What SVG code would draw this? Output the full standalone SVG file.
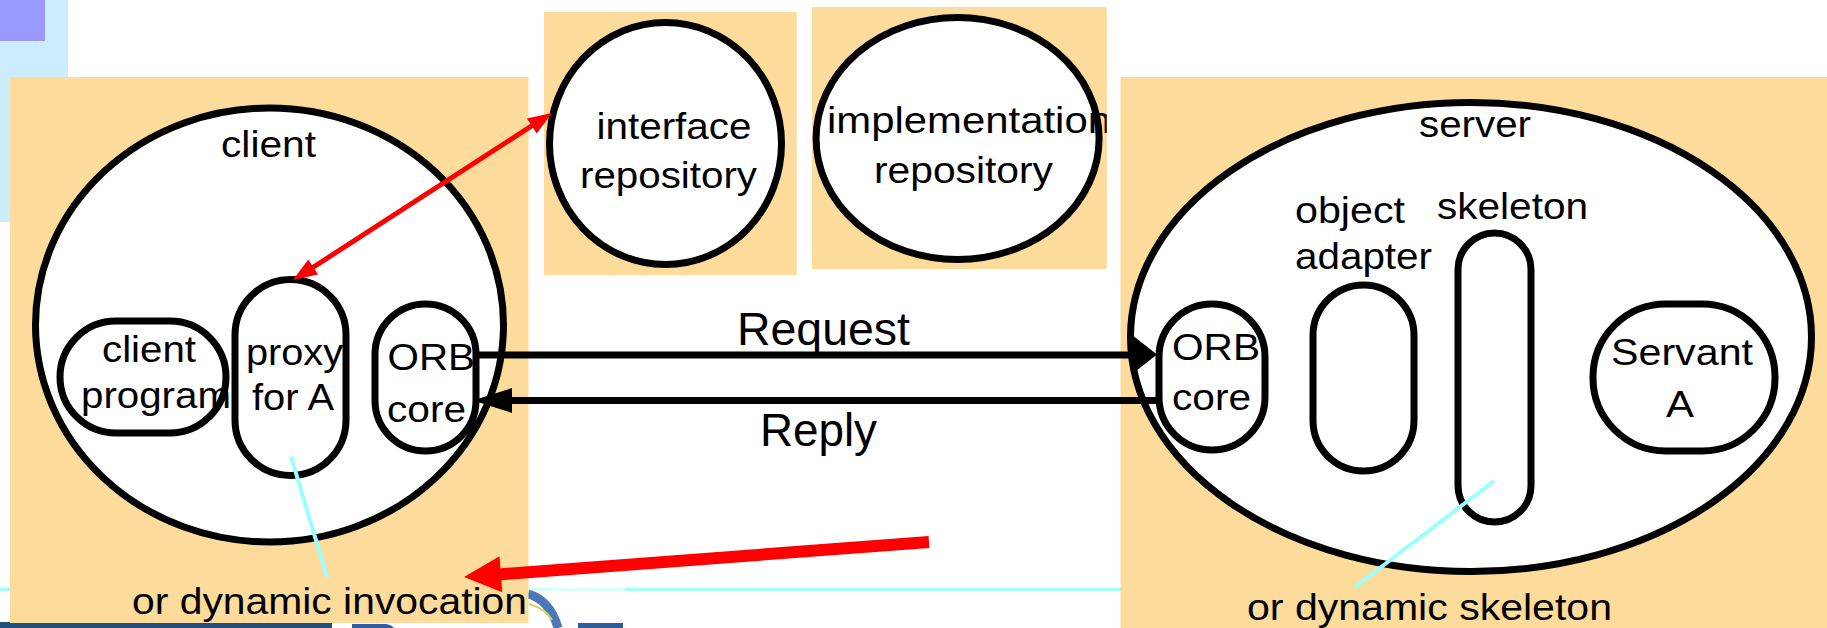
<svg xmlns="http://www.w3.org/2000/svg" width="1827" height="628" viewBox="0 0 1827 628">
  <style>
    .panel { fill: #FDDB9A; }
    .shape { fill: #FFFFFF; stroke: #000000; stroke-width: 7; }
    .lbl { font-family: "Liberation Sans", Arial, sans-serif; font-size: 37px; fill: #000000; }
    .big { font-size: 46px; }
    .msg { stroke: #000000; stroke-width: 7; fill: none; }
    .head { fill: #000000; }
    .red { stroke: #FF0000; fill: none; }
    .redhead { fill: #FF0000; }
    .lead { stroke: #99FFFF; stroke-width: 4; fill: none; }
  </style>
  <defs>
    <clipPath id="implClip">
      <rect x="812" y="7" width="294.7" height="262"/>
    </clipPath>
  </defs>

  <!-- background slide decoration -->
  <g id="background">
    <rect x="0" y="0" width="1827" height="628" fill="#FFFFFF"/>
    <rect x="0" y="0" width="68" height="222" fill="#CCECFF"/>
    <rect x="0" y="0" width="45" height="41" fill="#9999FF"/>
    <line x1="0" y1="589.3" x2="528" y2="589.3" stroke="#99FFFF" stroke-width="3"/>
    <line x1="528" y1="589.3" x2="625" y2="589.3" stroke="#D2FFFF" stroke-width="3"/>
    <line x1="625" y1="589.3" x2="1121" y2="589.3" stroke="#99FFFF" stroke-width="3"/>
    <rect x="0" y="622" width="332" height="6" fill="#1F4F7F"/>
    <path d="M352,628 L352,624 L386,624 Q392,625 394,628 Z" fill="#2D5DA6"/>
    <path d="M528,594 Q550,600 558,628" fill="none" stroke="#4A78B8" stroke-width="9"/>
    <path d="M529,604 Q546,609 552,620" fill="none" stroke="#D8D060" stroke-width="2"/>
    <rect x="578" y="623" width="45" height="5" fill="#2E5C9E"/>
  </g>

  <!-- client side -->
  <g id="client">
    <rect class="panel" x="10" y="77" width="518.5" height="546"/>
    <ellipse class="shape" cx="269.5" cy="325" rx="234" ry="217"/>
    <text class="lbl" x="221" y="157" textLength="95" lengthAdjust="spacingAndGlyphs">client</text>
    <text class="lbl" x="132" y="614" textLength="395" lengthAdjust="spacingAndGlyphs">or dynamic invocation</text>
  </g>
  <g id="client-program">
    <rect class="shape" x="60" y="321" width="166" height="112" rx="56"/>
    <text class="lbl" x="102" y="362" textLength="94" lengthAdjust="spacingAndGlyphs">client</text>
    <text class="lbl" x="81" y="408" textLength="150" lengthAdjust="spacingAndGlyphs">program</text>
  </g>
  <g id="proxy">
    <rect class="shape" x="235" y="279.5" width="111" height="196" rx="55.5"/>
    <text class="lbl" x="246" y="365" textLength="97" lengthAdjust="spacingAndGlyphs">proxy</text>
    <text class="lbl" x="252" y="410" textLength="82" lengthAdjust="spacingAndGlyphs">for A</text>
  </g>
  <g id="client-orb">
    <rect class="shape" x="375" y="304" width="101" height="147" rx="50.5"/>
    <text class="lbl" x="387.5" y="370" textLength="87.5" lengthAdjust="spacingAndGlyphs">ORB</text>
    <text class="lbl" x="387" y="422" textLength="79" lengthAdjust="spacingAndGlyphs">core</text>
  </g>

  <!-- repositories -->
  <g id="interface-repository">
    <rect class="panel" x="544" y="12" width="252.7" height="263"/>
    <ellipse class="shape" cx="665.5" cy="143.5" rx="116" ry="121"/>
    <text class="lbl" x="596.5" y="139" textLength="155" lengthAdjust="spacingAndGlyphs">interface</text>
    <text class="lbl" x="580" y="188" textLength="177" lengthAdjust="spacingAndGlyphs">repository</text>
  </g>
  <g id="implementation-repository">
    <rect class="panel" x="812" y="7" width="294.7" height="262"/>
    <ellipse class="shape" cx="957.6" cy="138.5" rx="141.5" ry="121"/>
    <text class="lbl" x="827" y="133" textLength="284" lengthAdjust="spacingAndGlyphs" clip-path="url(#implClip)">implementation</text>
    <text class="lbl" x="874" y="183" textLength="179" lengthAdjust="spacingAndGlyphs">repository</text>
  </g>

  <!-- server side -->
  <g id="server">
    <rect class="panel" x="1120.5" y="77" width="706.5" height="551"/>
    <ellipse class="shape" cx="1471" cy="337" rx="340.5" ry="234.5"/>
    <text class="lbl" x="1419" y="137" textLength="112" lengthAdjust="spacingAndGlyphs">server</text>
    <text class="lbl" x="1247" y="620" textLength="365" lengthAdjust="spacingAndGlyphs">or dynamic skeleton</text>
  </g>
  <g id="server-orb">
    <rect class="shape" x="1159" y="304" width="106" height="146" rx="53"/>
    <text class="lbl" x="1172" y="360" textLength="88" lengthAdjust="spacingAndGlyphs">ORB</text>
    <text class="lbl" x="1172" y="410" textLength="79" lengthAdjust="spacingAndGlyphs">core</text>
  </g>
  <g id="object-adapter">
    <rect class="shape" x="1313" y="285" width="101" height="186" rx="50.5"/>
    <text class="lbl" x="1295" y="223" textLength="110" lengthAdjust="spacingAndGlyphs">object</text>
    <text class="lbl" x="1295" y="269" textLength="137" lengthAdjust="spacingAndGlyphs">adapter</text>
  </g>
  <g id="skeleton">
    <rect class="shape" x="1458" y="233" width="73" height="289" rx="36.5"/>
    <text class="lbl" x="1437" y="219" textLength="151" lengthAdjust="spacingAndGlyphs">skeleton</text>
  </g>
  <g id="servant">
    <rect class="shape" x="1593" y="304" width="182" height="147" rx="73"/>
    <text class="lbl" x="1611" y="365" textLength="142" lengthAdjust="spacingAndGlyphs">Servant</text>
    <text class="lbl" x="1666" y="417" textLength="28" lengthAdjust="spacingAndGlyphs">A</text>
  </g>

  <!-- connectors -->
  <g id="connectors">
    <!-- request: client ORB core to server ORB core -->
    <line class="msg" x1="479" y1="355" x2="1136" y2="355"/>
    <polygon class="head" points="1134,336.5 1157,354.5 1134,372.5"/>
    <text class="lbl big" x="737" y="345" textLength="173" lengthAdjust="spacingAndGlyphs">Request</text>

    <!-- reply: server ORB core back to client ORB core -->
    <line class="msg" x1="1156" y1="400.5" x2="508" y2="400.5"/>
    <polygon class="head" points="512,388 473,400.5 512,413"/>
    <text class="lbl big" x="760" y="446" textLength="117" lengthAdjust="spacingAndGlyphs">Reply</text>

    <!-- proxy <-> interface repository -->
    <line class="red" stroke-width="5" x1="312" y1="268" x2="533" y2="125"/>
    <polygon class="redhead" points="552,113 536.7,133.6 526.9,118.4"/>
    <polygon class="redhead" points="293,280 318.1,274.6 308.3,259.4"/>

    <!-- pointer towards the dynamic invocation label -->
    <line class="red" stroke-width="12" x1="929" y1="542" x2="498" y2="574.4"/>
    <polygon class="redhead" points="464,577 499.5,556.2 502.3,592.2"/>

    <!-- leader lines to the alternative labels -->
    <line class="lead" x1="291" y1="456.5" x2="327" y2="577"/>
    <line class="lead" x1="1494" y1="481" x2="1355" y2="587"/>
  </g>
</svg>
